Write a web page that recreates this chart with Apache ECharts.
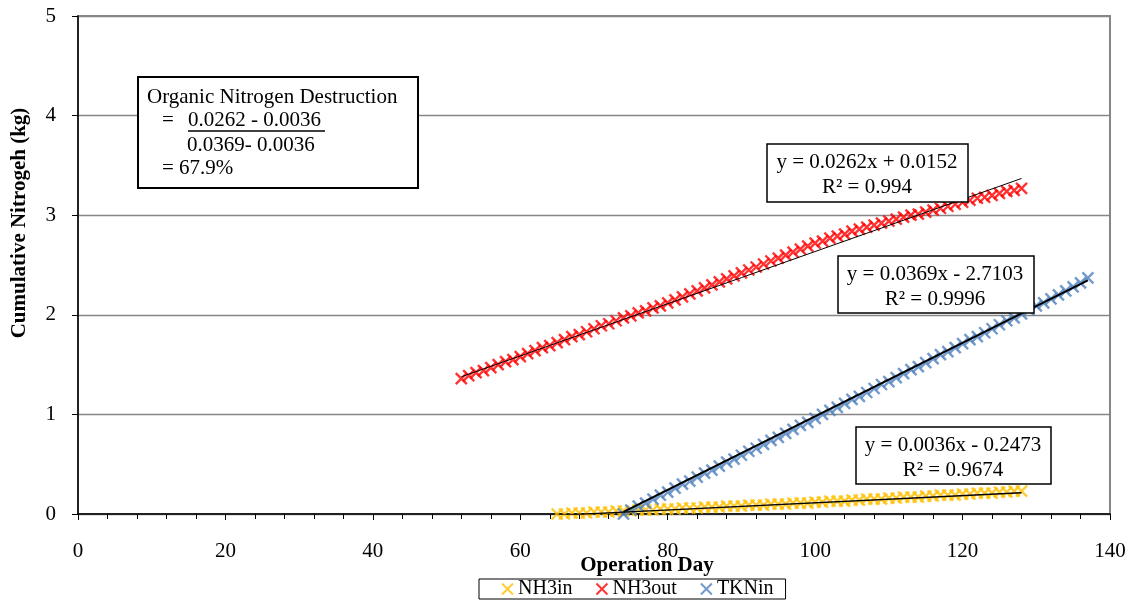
<!DOCTYPE html>
<html><head><meta charset="utf-8">
<script src="https://cdn.jsdelivr.net/npm/echarts@6/dist/echarts.min.js"></script>
<style>html,body{margin:0;padding:0;background:#fff}#c{width:1132px;height:604px}</style>
</head><body><div id="c"></div>
<script>
// ---- data ----
const seriesNames = ['NH3in', 'NH3out', 'TKNin'];
const seriesColors = ['#FFC000', '#FF0000', '#4F81BD'];
const xTicks = [0, 20, 40, 60, 80, 100, 120, 140];
const yTicks = [0, 1, 2, 3, 4, 5];

// days of operation (one point per day)
const nh3inFirstDay = 65;
const nh3inValues = [0.00,0.00,0.01,0.01,0.01,0.02,0.02,0.02,0.03,0.03,0.03,0.04,0.04,0.04,0.05,0.05,
  0.05,0.06,0.06,0.06,0.07,0.07,0.07,0.08,0.08,0.08,0.09,0.09,0.09,0.10,0.10,0.10,0.11,0.11,0.11,0.12,
  0.12,0.13,0.13,0.13,0.14,0.14,0.15,0.15,0.15,0.16,0.16,0.17,0.17,0.17,0.18,0.18,0.19,0.19,0.19,0.20,
  0.20,0.21,0.21,0.21,0.22,0.22,0.23,0.23];

const nh3outFirstDay = 52;
const nh3outValues = [1.36,1.39,1.42,1.44,1.47,1.50,1.53,1.55,1.58,1.61,1.64,1.67,1.69,1.72,1.75,1.78,
  1.80,1.83,1.86,1.89,1.91,1.94,1.97,1.99,2.02,2.04,2.07,2.09,2.12,2.15,2.18,2.21,2.24,2.27,2.30,2.33,
  2.36,2.39,2.42,2.45,2.48,2.51,2.54,2.57,2.60,2.63,2.66,2.69,2.72,2.74,2.77,2.79,2.81,2.84,2.86,2.88,
  2.90,2.92,2.94,2.96,2.98,3.00,3.01,3.03,3.05,3.07,3.09,3.11,3.13,3.15,3.17,3.18,3.20,3.22,3.24,3.25,3.27];

const tkninFirstDay = 74;
const tkninValues = [0.00,0.04,0.08,0.11,0.15,0.19,0.22,0.26,0.30,0.33,0.37,0.41,0.44,0.48,0.52,0.55,
  0.59,0.63,0.66,0.70,0.74,0.77,0.81,0.85,0.89,0.92,0.96,1.00,1.04,1.07,1.11,1.15,1.18,1.22,1.26,1.30,
  1.33,1.37,1.41,1.45,1.48,1.52,1.56,1.60,1.63,1.67,1.71,1.75,1.78,1.82,1.86,1.90,1.94,1.97,2.01,2.05,
  2.09,2.12,2.16,2.20,2.24,2.28,2.32,2.37];

// linear trendlines as printed on the chart
const trendSlopes = [0.0036, 0.0262, 0.0369];
const trendIntercepts = [-0.2473, 0.0152, -2.7103];
const trendRanges = [[65, 128], [52, 128], [74, 137]];
const trendLabels = [['y = 0.0036x - 0.2473', 'R² = 0.9674'],
                     ['y = 0.0262x + 0.0152', 'R² = 0.994'],
                     ['y = 0.0369x - 2.7103', 'R² = 0.9996']];
const noteTitle = 'Organic Nitrogen Destruction';
const noteNumerator = '0.0262 - 0.0036';
const noteDenominator = '0.0369- 0.0036';
const noteResult = '= 67.9%';
const xTitle = 'Operation Day';
const yTitle = 'Cumulative Nitrogeh (kg)';

// ---- build ----
const FONT = '"Liberation Serif", "Times New Roman", serif';
function pairs(first, vals) { return vals.map((v, i) => [first + i, v]); }
const scatterData = [pairs(nh3inFirstDay, nh3inValues), pairs(nh3outFirstDay, nh3outValues), pairs(tkninFirstDay, tkninValues)];
const crossPath = 'path://M0,0L10,10M10,0L0,10';

const series = [];
scatterData.forEach((d, i) => {
  series.push({
    name: seriesNames[i], type: 'scatter', data: d, symbol: crossPath, symbolSize: 11,
    itemStyle: { color: seriesColors[i], borderColor: seriesColors[i], borderWidth: 2.4 },
    z: 2 + i, silent: true
  });
});
const trendWidths = [1.3, 1, 2];
trendSlopes.forEach((m, i) => {
  const r = trendRanges[i];
  series.push({
    type: 'line', data: r.map(x => [x, m * x + trendIntercepts[i]]), symbol: 'none',
    lineStyle: { color: '#000', width: trendWidths[i] }, z: 6, silent: true
  });
});

function txt(s, x, y, align) {
  return { type: 'text', z: 101, style: { text: s, x: x, y: y, textAlign: align || 'left', textVerticalAlign: 'middle', font: '21px ' + FONT, fill: '#000' } };
}
function eqBox(x, y, w, h, cx, lines) {
  return {
    type: 'group', z: 100, children: [
      { type: 'rect', shape: { x: x, y: y, width: w, height: h }, style: { fill: '#fff', stroke: '#000', lineWidth: 1.5 }, z: 100 },
      txt(lines[0], cx, y + 18, 'center'),
      txt(lines[1], cx, y + 43, 'center')
    ]
  };
}

const graphic = [
  { type: 'group', z: 100, children: [
    { type: 'rect', z: 100, shape: { x: 138, y: 77, width: 280, height: 111 }, style: { fill: '#fff', stroke: '#000', lineWidth: 2 } },
    txt(noteTitle, 147, 97),
    txt('=', 162, 120),
    txt(noteNumerator, 188, 120),
    { type: 'line', z: 101, shape: { x1: 188, y1: 131, x2: 325, y2: 131 }, style: { stroke: '#000', lineWidth: 1.5 } },
    txt(noteDenominator, 187, 145),
    txt(noteResult, 162, 168)
  ]},
  eqBox(767, 144, 201, 58, 867, trendLabels[1]),
  eqBox(838, 256, 196, 57, 935, trendLabels[2]),
  eqBox(856, 427, 195, 57, 953, trendLabels[0]),
  { type: 'text', z: 100, x: 647, y: 566, style: { text: xTitle, x: 0, y: 0, textAlign: 'center', textVerticalAlign: 'middle', font: 'bold 21px ' + FONT, fill: '#000' } },
  { type: 'text', z: 100, x: 20, y: 223, rotation: Math.PI / 2, style: { text: yTitle, x: 0, y: 0, textAlign: 'center', textVerticalAlign: 'middle', font: 'bold 21px ' + FONT, fill: '#000' } }
];

const chart = echarts.init(document.getElementById('c'), null, { renderer: 'canvas' });
chart.setOption({
  animation: false,
  backgroundColor: '#fff',
  grid: { left: 78, right: 22, top: 16, bottom: 90, show: true, borderColor: '#868686', borderWidth: 2, backgroundColor: 'transparent' },
  xAxis: {
    type: 'value', min: xTicks[0], max: xTicks[xTicks.length - 1], interval: 20,
    axisLine: { show: true, onZero: false, lineStyle: { color: '#000', width: 1.5 } },
    axisTick: { show: true, inside: false, length: 6, lineStyle: { color: '#000', width: 1 } },
    minorTick: { show: true, splitNumber: 5, length: 5, lineStyle: { color: '#000', width: 1 } },
    splitLine: { show: false },
    axisLabel: { color: '#000', fontSize: 21, fontFamily: FONT, margin: 27 }
  },
  yAxis: {
    type: 'value', min: yTicks[0], max: yTicks[yTicks.length - 1], interval: 1,
    axisLine: { show: true, lineStyle: { color: '#000', width: 1.5 } },
    axisTick: { show: true, inside: false, length: 6, lineStyle: { color: '#000', width: 1 } },
    splitLine: { show: true, lineStyle: { color: '#868686', width: 1.3 } },
    axisLabel: { color: '#000', fontSize: 21, fontFamily: FONT, margin: 22 }
  },
  legend: {
    data: seriesNames, left: 479, top: 579, orient: 'horizontal',
    borderColor: '#000', borderWidth: 1, padding: [0, 12, 0, 22], itemGap: 23,
    itemWidth: 11, itemHeight: 11,
    textStyle: { color: '#000', fontSize: 20, fontFamily: FONT, padding: [2, 0, 0, 0] }
  },
  series: series,
  graphic: graphic
});
</script></body></html>
